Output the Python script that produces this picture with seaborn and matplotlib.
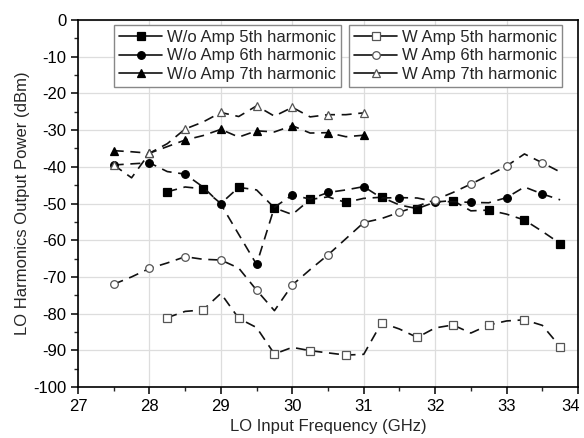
import numpy as np
import pandas as pd
import matplotlib
matplotlib.use("Agg")
import matplotlib.pyplot as plt
from matplotlib.ticker import MultipleLocator
from matplotlib.transforms import ScaledTranslation
import seaborn as sns

# frequencies (GHz), 0.25 GHz steps
freq_long = [27.5, 27.75, 28.0, 28.25, 28.5, 28.75, 29.0, 29.25, 29.5, 29.75, 30.0, 30.25, 30.5,
             30.75, 31.0, 31.25, 31.5, 31.75, 32.0, 32.25, 32.5, 32.75, 33.0, 33.25, 33.5, 33.75]
freq_short = [27.5, 27.75, 28.0, 28.25, 28.5, 28.75, 29.0, 29.25, 29.5, 29.75, 30.0, 30.25, 30.5,
              30.75, 31.0]
freq_5th = [28.25, 28.5, 28.75, 29.0, 29.25, 29.5, 29.75, 30.0, 30.25, 30.5, 30.75, 31.0, 31.25,
            31.5, 31.75, 32.0, 32.25, 32.5, 32.75, 33.0, 33.25, 33.5, 33.75]

# without amplifier
wo_5th = [-46.8, -45.5, -46.0, -50.0, -45.6, -46.3, -51.2, -53.0, -48.9, -48.2, -49.7, -48.6, -48.3,
          -50.4, -51.4, -49.6, -49.2, -52.0, -51.8, -52.9, -54.5, -57.6, -60.9]
wo_6th = [-39.5, -39.2, -38.9, -41.3, -42.0, -45.5, -50.2, -58.4, -66.6, -51.0, -47.7, -48.8, -47.0,
          -46.3, -45.4, -48.5, -48.4, -48.5, -49.5, -49.5, -49.7, -49.8, -48.4, -45.5, -47.4, -49.0]
wo_7th = [-35.6, -35.9, -36.3, -34.5, -32.7, -31.5, -29.8, -31.9, -30.2, -30.5, -28.8, -30.8, -30.7,
          -31.8, -31.4]

# with amplifier
w_5th = [-81.1, -79.4, -79.0, -74.5, -81.3, -83.8, -91.0, -89.2, -90.1, -90.7, -91.3, -91.1, -82.5,
         -84.2, -86.5, -83.9, -83.1, -85.3, -83.1, -82.0, -81.7, -83.2, -89.0]
w_6th = [-72.0, -70.0, -67.7, -66.2, -64.5, -65.2, -65.4, -67.6, -73.6, -79.2, -72.2, -68.0, -64.0,
         -59.6, -55.2, -54.1, -52.4, -50.7, -49.0, -47.0, -44.7, -42.3, -39.8, -36.5, -38.9, -41.4]
w_7th = [-39.5, -43.0, -36.3, -33.7, -29.7, -27.8, -25.2, -26.3, -23.4, -26.2, -23.8, -26.4, -25.8,
         -25.8, -25.3]

sns.set_style("whitegrid")
plt.rcParams['font.family'] = ['Liberation Sans', 'DejaVu Sans']
plt.rcParams['axes.unicode_minus'] = False

fig = plt.figure(figsize=(5.84, 4.38), dpi=100)
ax = fig.add_axes([78 / 584, 1 - 387 / 438, 500 / 584, 367 / 438])

line_col = '#111111'
open_col = '#555555'
dash = (0, (6, 4))

series = [
    ('W/o Amp 5th harmonic', freq_5th, wo_5th, 's', 'black', 'black'),
    ('W/o Amp 6th harmonic', freq_long, wo_6th, 'o', 'black', 'black'),
    ('W/o Amp 7th harmonic', freq_short, wo_7th, '^', 'black', 'black'),
    ('W Amp 5th harmonic', freq_5th, w_5th, 's', 'white', open_col),
    ('W Amp 6th harmonic', freq_long, w_6th, 'o', 'white', open_col),
    ('W Amp 7th harmonic', freq_short, w_7th, '^', 'white', open_col),
]

for i, (name, xs, ys, mk, fc, ec) in enumerate(series):
    df = pd.DataFrame({'freq': xs, 'power': ys})
    sns.lineplot(data=df, x='freq', y='power', ax=ax, label=name, color=line_col,
                 linestyle=dash, linewidth=1.2, marker=mk, markevery=2, markersize=5.5,
                 markerfacecolor=fc, markeredgecolor=ec, markeredgewidth=0.9,
                 zorder=3 + i, legend=False)

ax.set_xlim(27, 34)
ax.set_ylim(-100, 0)
ax.xaxis.set_major_locator(MultipleLocator(1))
ax.xaxis.set_minor_locator(MultipleLocator(0.5))
ax.yaxis.set_major_locator(MultipleLocator(10))
ax.yaxis.set_minor_locator(MultipleLocator(5))
ax.grid(True, which='major', color='#dddddd', linewidth=0.9)
ax.tick_params(axis='both', which='major', direction='out', length=5, width=1.1,
               labelsize=12, colors='black', bottom=True, left=True)
ax.tick_params(axis='both', which='minor', direction='out', length=3, width=1.0,
               bottom=True, left=True)
for sp in ax.spines.values():
    sp.set_color('black')
    sp.set_linewidth(1.2)

ax.set_xlabel('LO Input Frequency (GHz)', fontsize=12, labelpad=4)
ax.set_ylabel('LO Harmonics Output Power (dBm)', fontsize=12, labelpad=2)

handles = ax.get_lines()[:6]
labels = [s[0] for s in series]
leg_kw = dict(loc='upper left', fontsize=12, handlelength=2.6, handletextpad=0.3,
              labelspacing=0.2, borderpad=0.3, borderaxespad=0, fancybox=False,
              framealpha=1, edgecolor='#888888')
leg1 = ax.legend(handles[:3], labels[:3], bbox_to_anchor=(0.072, 0.986), **leg_kw)
ax.add_artist(leg1)
leg2 = ax.legend(handles[3:], labels[3:], bbox_to_anchor=(0.542, 0.986), **leg_kw)
for lg in (leg1, leg2):
    lg.get_frame().set_linewidth(1.0)
    for ln in lg.get_lines():
        ln.set_linestyle('-')

# nudge the last x tick label ("34") so it stays inside the canvas
fig.canvas.draw()
last = ax.xaxis.get_major_ticks()[-1]
for t in ax.xaxis.get_major_ticks():
    if abs(t.get_loc() - 34) < 1e-6:
        last = t
last.label1.set_transform(last.label1.get_transform()
                          + ScaledTranslation(-5 / 72, 0, fig.dpi_scale_trans))

plt.savefig('out.png', dpi=100)
